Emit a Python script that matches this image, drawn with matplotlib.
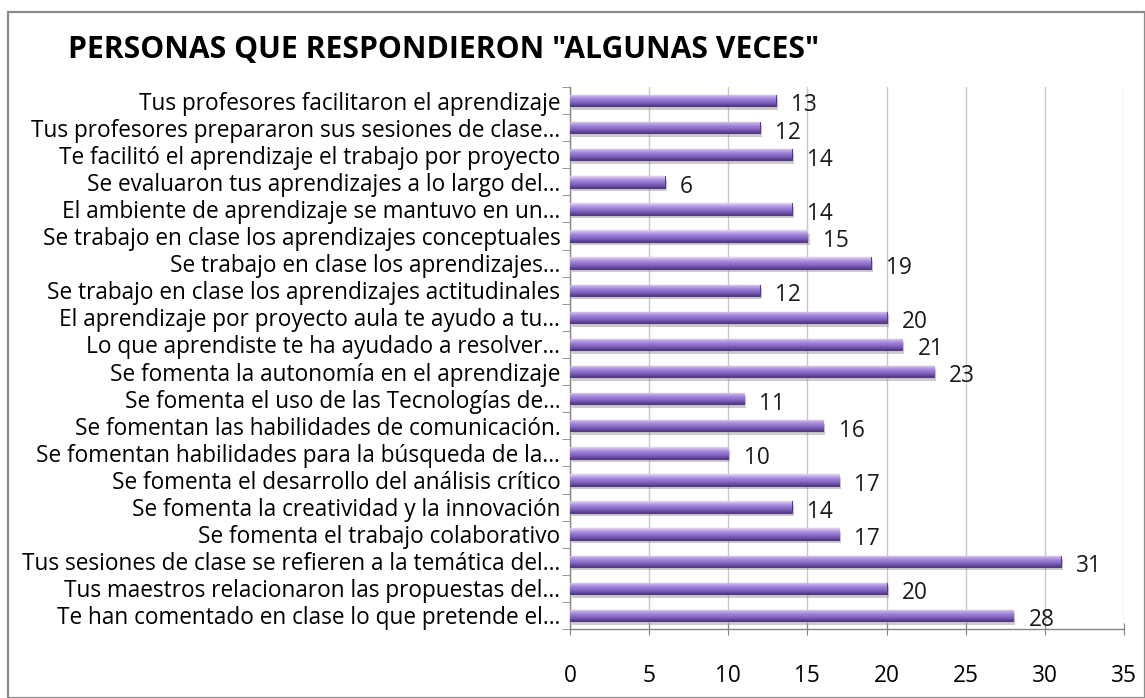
import matplotlib
matplotlib.use("Agg")
import numpy as np
import matplotlib.pyplot as plt
import matplotlib.patheffects as pe
from matplotlib.patches import Rectangle
from matplotlib.ticker import FixedLocator
from matplotlib.colors import LinearSegmentedColormap

categories = [
    "Tus profesores facilitaron el aprendizaje",
    "Tus profesores prepararon sus sesiones de clase…",
    "Te facilitó el aprendizaje el trabajo por proyecto",
    "Se evaluaron tus aprendizajes a lo largo del…",
    "El ambiente de aprendizaje se mantuvo en un…",
    "Se trabajo en clase los aprendizajes conceptuales",
    "Se trabajo en clase los aprendizajes…",
    "Se trabajo en clase los aprendizajes actitudinales",
    "El aprendizaje por proyecto aula te ayudo a tu…",
    "Lo que aprendiste te ha ayudado a resolver…",
    "Se fomenta la autonomía en el aprendizaje",
    "Se fomenta el uso de las Tecnologías de…",
    "Se fomentan las habilidades de comunicación.",
    "Se fomentan habilidades para la búsqueda de la…",
    "Se fomenta el desarrollo del análisis crítico",
    "Se fomenta la creatividad y la innovación",
    "Se fomenta el trabajo colaborativo",
    "Tus sesiones de clase se refieren a la temática del…",
    "Tus maestros relacionaron las propuestas del…",
    "Te han comentado en clase lo que pretende el…",
]
values = [13, 12, 14, 6, 14, 15, 19, 12, 20, 21, 23, 11, 16, 10, 17, 14, 17, 31, 20, 28]
x_ticks = [0, 5, 10, 15, 20, 25, 30, 35]
title = 'PERSONAS QUE RESPONDIERON "ALGUNAS VECES"'

FONT = ["Open Sans", "DejaVu Sans"]
plt.rcParams["font.family"] = FONT
FS = 16.3

W, H = 1145, 698
fig = plt.figure(figsize=(W / 100, H / 100), dpi=100)
fig.patch.set_facecolor("white")

# outer frame
fig.add_artist(Rectangle((8 / W, 0.0), 1 - 8 / W, 1 - 12 / H, transform=fig.transFigure,
                         fill=False, edgecolor="#8c8c8c", lw=1.6))

ax = fig.add_axes([570 / W, 1 - 629 / H, (1124 - 570) / W, (629 - 87) / H])
ypos = list(range(len(categories)))
bh = 0.42

bars = ax.barh(ypos, values, height=bh, color="#8a6bc6", edgecolor="#54397c",
               linewidth=0.8, zorder=3)
cmap = LinearSegmentedColormap.from_list(
    "bar3d", ["#e4d9f4", "#bfa7e8", "#a083da", "#8c6dca", "#7355ad", "#523a80"])
grad = np.linspace(0, 1, 64).reshape(-1, 1)
for b, y, v in zip(bars, ypos, values):
    b.set_path_effects([pe.SimplePatchShadow(offset=(1.5, -2.5), shadow_rgbFace="#8c8c8c", alpha=0.45),
                        pe.Normal()])
    im = ax.imshow(grad, extent=[0, v, y + bh / 2, y - bh / 2], aspect="auto",
                   cmap=cmap, zorder=3.5, interpolation="bilinear")
    im.set_clip_path(b)

for y, v in zip(ypos, values):
    ax.annotate(str(v), xy=(v, y), xytext=(11, -3.5), textcoords="offset points",
                ha="left", va="center", fontsize=FS, color="#1a1a1a")

ax.set_xlim(0, 35)
ax.set_ylim(len(categories) - 0.5, -0.5)
ax.set_xticks(x_ticks)
ax.set_xticklabels([str(t) for t in x_ticks], fontsize=FS)
ax.set_yticks(ypos)
ax.set_yticklabels(categories, fontsize=FS)
ax.yaxis.set_minor_locator(FixedLocator([i - 0.5 for i in range(len(categories) + 1)]))
ax.tick_params(axis="y", which="major", length=0, pad=7)
ax.tick_params(axis="y", which="minor", length=6, direction="out", color="#868686")
ax.tick_params(axis="x", which="major", length=9, direction="inout", color="#868686", pad=21)

ax.grid(axis="x", color="#c8c8c8", linewidth=1.0, zorder=0)
ax.set_axisbelow(True)
for s in ["top", "right"]:
    ax.spines[s].set_visible(False)
for s in ["left", "bottom"]:
    ax.spines[s].set_color("#868686")
    ax.spines[s].set_linewidth(1.0)

fig.text(68 / W, 1 - 50 / H, title, fontsize=21.7, fontweight="bold", ha="left", va="center",
         color="#000000")

fig.savefig("out.png", dpi=100)
